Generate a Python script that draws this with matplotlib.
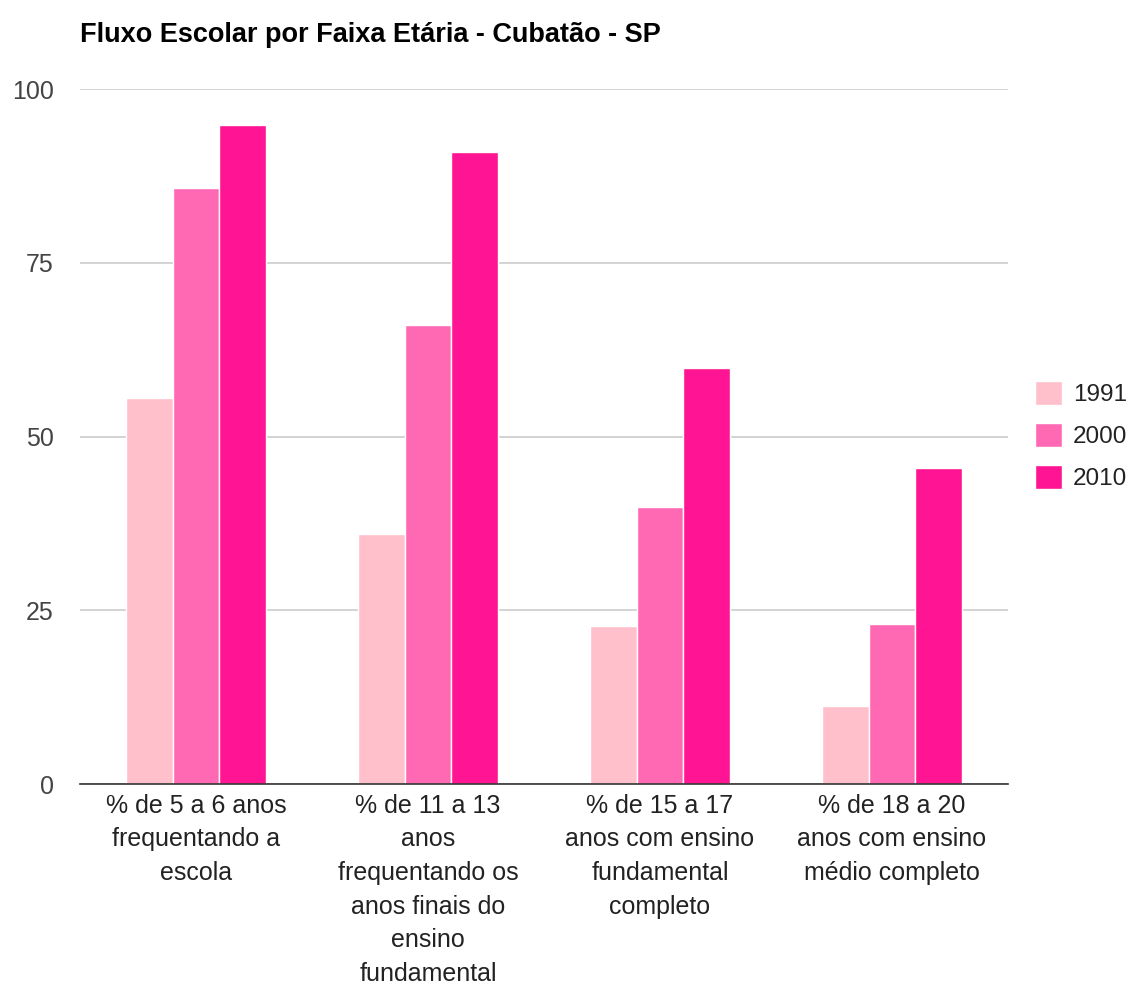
import matplotlib
matplotlib.use("Agg")
import matplotlib.pyplot as plt
import numpy as np

plt.rcParams['font.family'] = ['Liberation Sans', 'DejaVu Sans']

categories = ["% de 5 a 6 anos\nfrequentando a\nescola",
              "% de 11 a 13\nanos\nfrequentando os\nanos finais do\nensino\nfundamental",
              "% de 15 a 17\nanos com ensino\nfundamental\ncompleto",
              "% de 18 a 20\nanos com ensino\nmédio completo"]
series_names = ["1991", "2000", "2010"]
v1991 = [55.5, 36.0, 22.7, 11.2]
v2000 = [85.8, 66.0, 39.9, 23.0]
v2010 = [94.8, 90.9, 59.9, 45.5]
colors = ["#FFC0CB", "#FF69B4", "#FF1493"]

W, H = 1134, 988
fig = plt.figure(figsize=(W / 100, H / 100), dpi=100)
ax = fig.add_axes([80 / W, 1 - 784 / H, 928 / W, 695 / H])

x = np.arange(len(categories))
w = 0.2
for i, (vals, c, name) in enumerate(zip([v1991, v2000, v2010], colors, series_names)):
    ax.bar(x + (i - 1) * w, vals, width=w, color=c, label=name,
           edgecolor='white', linewidth=1.0, zorder=3)

ax.set_xlim(-0.5, 3.5)
ax.set_ylim(0, 100)
ax.set_yticks([0, 25, 50, 75, 100])
ax.yaxis.grid(True, color='#cccccc', linewidth=1.2, zorder=0)
for s in ['top', 'right', 'left']:
    ax.spines[s].set_visible(False)
ax.spines['bottom'].set_color('#333333')
ax.spines['bottom'].set_linewidth(1.2)
ax.spines['bottom'].set_zorder(4)
ax.tick_params(axis='y', length=0, pad=19, labelsize=18, labelcolor='#444444')
ax.tick_params(axis='x', length=0, pad=7, labelsize=18, labelcolor='#222222')
ax.set_xticks(x)
ax.set_xticklabels(categories, linespacing=1.51, va='top')

fig.text(80 / W, 1 - 42 / H, "Fluxo Escolar por Faixa Etária - Cubatão - SP",
         fontsize=19.5, fontweight='bold', color='black', va='baseline', ha='left')

leg = ax.legend(loc='center left', bbox_to_anchor=((1035 - 80) / 928, (784 - 435.5) / 695),
                frameon=False, fontsize=17.5, handlelength=1.12, handleheight=1.12,
                handletextpad=0.45, labelspacing=0.7, borderaxespad=0, borderpad=0)
for t in leg.get_texts():
    t.set_color('#222222')

fig.savefig("out.png", dpi=100, facecolor='white')
